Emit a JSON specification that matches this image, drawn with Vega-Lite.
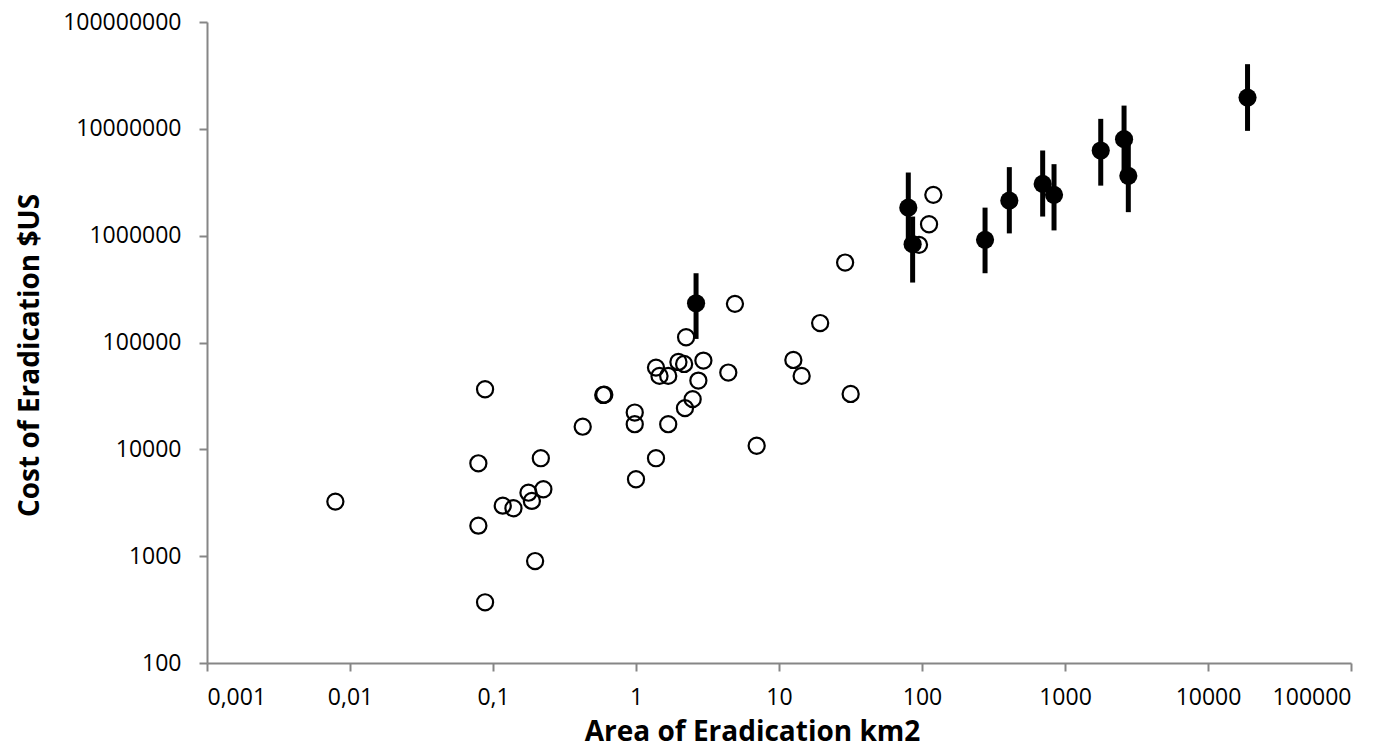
{
  "$schema": "https://vega.github.io/schema/vega-lite/v6.json",
  "width": 1144,
  "height": 641,
  "autosize": "none",
  "padding": {"left": 207, "top": 22, "right": 44, "bottom": 87},
  "background": "white",
  "config": {
    "view": {"stroke": null},
    "font": "Open Sans",
    "axis": {
      "domainColor": "#868686",
      "domainWidth": 2,
      "tickColor": "#868686",
      "tickWidth": 2,
      "tickSize": 8,
      "grid": false,
      "labelFont": "Open Sans",
      "labelFontSize": 23,
      "labelColor": "#000000",
      "titleFont": "Open Sans",
      "titleFontSize": 28,
      "titleFontWeight": "bold",
      "titleColor": "#000000"
    }
  },
  "datasets": {
    "open": [
      {"area": 0.0079, "cost": 3240},
      {"area": 0.079, "cost": 7400},
      {"area": 0.079, "cost": 1930},
      {"area": 0.088, "cost": 36500},
      {"area": 0.088, "cost": 370},
      {"area": 0.117, "cost": 2970},
      {"area": 0.139, "cost": 2810},
      {"area": 0.177, "cost": 3930},
      {"area": 0.187, "cost": 3290},
      {"area": 0.225, "cost": 4230},
      {"area": 0.216, "cost": 8260},
      {"area": 0.197, "cost": 900},
      {"area": 0.424, "cost": 16300},
      {"area": 0.59, "cost": 32300},
      {"area": 0.6, "cost": 32500},
      {"area": 0.98, "cost": 22100},
      {"area": 0.98, "cost": 17200},
      {"area": 1.0, "cost": 5250},
      {"area": 1.38, "cost": 58200},
      {"area": 1.46, "cost": 48700},
      {"area": 1.68, "cost": 48700},
      {"area": 1.68, "cost": 17200},
      {"area": 1.38, "cost": 8260},
      {"area": 1.98, "cost": 65800},
      {"area": 2.17, "cost": 63000},
      {"area": 2.24, "cost": 112000},
      {"area": 2.2, "cost": 24300},
      {"area": 2.49, "cost": 29500},
      {"area": 2.73, "cost": 44000},
      {"area": 2.96, "cost": 67700},
      {"area": 4.42, "cost": 52300},
      {"area": 4.92, "cost": 230000},
      {"area": 6.98, "cost": 10800},
      {"area": 12.6, "cost": 68700},
      {"area": 14.4, "cost": 48700},
      {"area": 19.4, "cost": 152000},
      {"area": 29, "cost": 560000},
      {"area": 31.7, "cost": 33000},
      {"area": 95.3, "cost": 820000},
      {"area": 112, "cost": 1280000},
      {"area": 120, "cost": 2410000}
    ],
    "filled": [
      {"area": 2.63, "cost": 233000, "lo": 108000, "hi": 445000},
      {"area": 80.2, "cost": 1830000, "lo": 914000, "hi": 3900000},
      {"area": 86, "cost": 832000, "lo": 364000, "hi": 1510000},
      {"area": 276, "cost": 914000, "lo": 445000, "hi": 1830000},
      {"area": 408, "cost": 2130000, "lo": 1050000, "hi": 4380000},
      {"area": 698, "cost": 3050000, "lo": 1510000, "hi": 6270000},
      {"area": 838, "cost": 2410000, "lo": 1120000, "hi": 4670000},
      {"area": 1778, "cost": 6270000, "lo": 2940000, "hi": 12400000},
      {"area": 2588, "cost": 8000000, "lo": 4130000, "hi": 16500000},
      {"area": 2772, "cost": 3630000, "lo": 1660000, "hi": 7350000},
      {"area": 18900, "cost": 19600000, "lo": 9570000, "hi": 40300000}
    ]
  },
  "layer": [
    {
      "data": {"name": "open"},
      "mark": {"type": "point", "shape": "circle", "filled": false, "size": 260, "stroke": "#000000", "strokeWidth": 2.2, "opacity": 1},
      "encoding": {
        "x": {
          "field": "area", "type": "quantitative",
          "scale": {"type": "log", "domain": [0.001, 100000], "nice": false},
          "axis": {
            "title": "Area of Eradication km2",
            "values": [0.001, 0.01, 0.1, 1, 10, 100, 1000, 10000, 100000],
            "labelExpr": "replace(format(datum.value, '~f'), '.', ',')",
            "labelPadding": 15,
            "titleBaseline": "middle",
            "titleX": 545,
            "titleY": 69
          }
        },
        "y": {
          "field": "cost", "type": "quantitative",
          "scale": {"type": "log", "domain": [100, 100000000], "nice": false},
          "axis": {
            "title": "Cost of Eradication $US",
            "values": [100, 1000, 10000, 100000, 1000000, 10000000, 100000000],
            "format": "d",
            "labelPadding": 18,
            "titleBaseline": "middle",
            "titleX": -177,
            "titleY": 333
          }
        }
      }
    },
    {
      "data": {"name": "filled"},
      "mark": {"type": "rule", "color": "#000000", "strokeWidth": 5},
      "encoding": {
        "x": {"field": "area", "type": "quantitative"},
        "y": {"field": "lo", "type": "quantitative"},
        "y2": {"field": "hi"}
      }
    },
    {
      "data": {"name": "filled"},
      "mark": {"type": "point", "shape": "circle", "filled": true, "size": 330, "color": "#000000", "opacity": 1},
      "encoding": {
        "x": {"field": "area", "type": "quantitative"},
        "y": {"field": "cost", "type": "quantitative"}
      }
    }
  ]
}
